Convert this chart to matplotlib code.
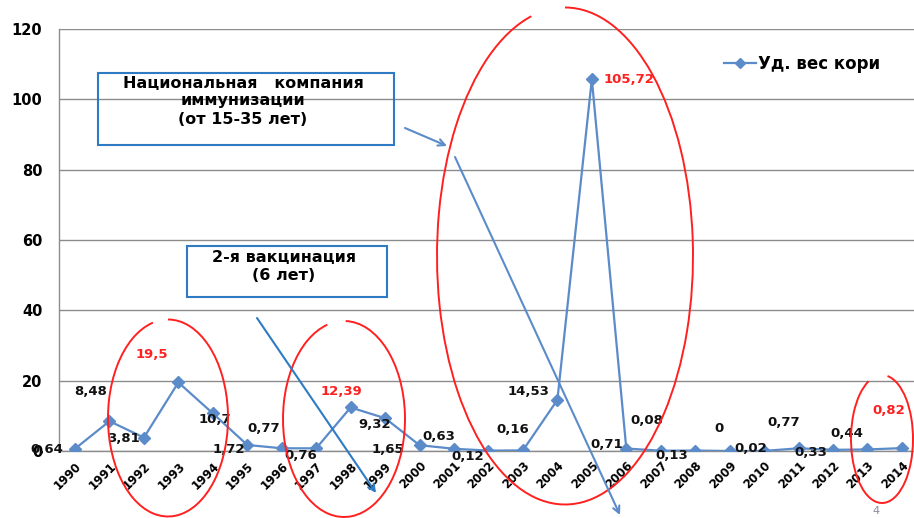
import matplotlib
matplotlib.use("Agg")
import matplotlib.pyplot as plt
from matplotlib.patches import Arc, Rectangle
from matplotlib.lines import Line2D

# data
years = ['1990', '1991', '1992', '1993', '1994', '1995', '1996', '1997', '1998',
         '1999', '2000', '2001', '2002', '2003', '2004', '2005', '2006', '2007',
         '2008', '2009', '2010', '2011', '2012', '2013', '2014']
values = [0.64, 8.48, 3.81, 19.5, 10.7, 1.72, 0.77, 0.76, 12.39, 9.32, 1.65, 0.63,
          0.12, 0.16, 14.53, 105.72, 0.71, 0.08, 0.13, 0, 0.02, 0.77, 0.33, 0.44, 0.82]
highlight = ['1993', '1998', '2005', '2014']
series_name = 'Уд. вес кори'
y_ticks = [0, 20, 40, 60, 80, 100, 120]

# label offsets from each point (pixels)
label_offsets = [(-28, -1), (-19, 30), (-20, -1), (-27, 28), (2, -6), (-18, -5),
                 (-18, 20), (-15, -7), (-9, 16), (-10, -6), (-32, -4), (-15, 12),
                 (-21, -6), (-10, 21), (-29, 8), (37, 0), (-20, 4), (-14, 30),
                 (-23, -5), (-11, 22), (-13, 2), (-15, 26), (-22, -3), (-21, 16),
                 (-13, 38)]

W, H = 914, 518
LINE = '#5B8BC9'
ARROW = '#2E7BC4'
RED = '#FF2020'

plt.rcParams['font.family'] = ['DejaVu Sans']
plt.rcParams['font.weight'] = 'bold'

fig = plt.figure(figsize=(W / 100, H / 100), dpi=100)
ax = fig.add_axes([59 / W, 67 / H, 1 - 59 / W, 422 / H])

x = list(range(len(years)))
ax.plot(x, values, color=LINE, lw=1.6, marker='D', ms=6, mec=LINE, mfc=LINE,
        label=series_name, zorder=3)

for i, v in enumerate(values):
    txt = f'{v:g}'.replace('.', ',')
    red = years[i] in highlight
    dx, dy = label_offsets[i]
    ax.annotate(txt, (i, v), xytext=(dx, dy), textcoords='offset pixels',
                ha='center', va='center', fontsize=9.5, fontweight='bold',
                color=RED if red else '#111111', zorder=5)

ax.set_xlim(-0.464, 24.35)
ax.set_ylim(0, 120)
ax.set_yticks(y_ticks)
ax.set_xticks(x)
ax.set_xticklabels(years, rotation=45, ha='right', va='top',
                   rotation_mode='anchor', fontsize=8.5, fontweight='bold')
ax.tick_params(axis='x', length=0, pad=6)
ax.tick_params(axis='y', length=0, pad=12, labelsize=10.5)
for lab in ax.get_yticklabels():
    lab.set_fontweight('bold')
ax.grid(axis='y', color='#8c8c8c', lw=1)
ax.set_axisbelow(True)
for s in ['top', 'right']:
    ax.spines[s].set_visible(False)
for s in ['left', 'bottom']:
    ax.spines[s].set_color('#8c8c8c')
    ax.spines[s].set_linewidth(1)

fig.legend(handles=[Line2D([], [], color=LINE, lw=1.6, marker='D', ms=5)],
           labels=[series_name], loc='center left',
           bbox_to_anchor=(716 / W, 1 - 64 / H), frameon=False,
           handlelength=1.9, handletextpad=0.1, borderpad=0,
           prop={'weight': 'bold', 'size': 12})

# overlay in pixel coordinates for the hand-drawn annotations
ov = fig.add_axes([0, 0, 1, 1], zorder=10)
ov.set_xlim(0, W)
ov.set_ylim(H, 0)
ov.axis('off')
ov.patch.set_alpha(0)

# (centre, width, height, theta1, theta2) - small gap near the top of each
ellipses = [((168, 418), 120, 197, 270, 621),
            ((344, 419), 122, 196, 271, 620),
            ((565, 256), 256, 497, 270, 622),
            ((882, 439), 62, 128, 275, 617)]
for c, w, h, t1, t2 in ellipses:
    ov.add_patch(Arc(c, w, h, theta1=t1, theta2=t2, color=RED, lw=1.4))

ov.add_patch(Rectangle((98, 73), 296, 72, fill=False, ec=ARROW, lw=1.5))
ov.text(243, 84, 'Национальная   компания', ha='center', va='center', fontsize=11.5)
ov.text(243, 101, 'иммунизации', ha='center', va='center', fontsize=11.5)
ov.text(243, 119, '(от 15-35 лет)', ha='center', va='center', fontsize=11.5)

ov.add_patch(Rectangle((187, 246), 200, 51, fill=False, ec=ARROW, lw=1.5))
ov.text(284, 258, '2-я вакцинация', ha='center', va='center', fontsize=11.5)
ov.text(284, 276, '(6 лет)', ha='center', va='center', fontsize=11.5)

arr = dict(arrowstyle='->', color=ARROW, lw=1.5, mutation_scale=12,
           shrinkA=0, shrinkB=0)
ov.annotate('', xy=(376, 493), xytext=(257, 318), arrowprops=arr)
arr2 = dict(arr, color='#5B8BC9')
ov.annotate('', xy=(447, 146), xytext=(405, 128), arrowprops=arr2)
ov.annotate('', xy=(620, 515), xytext=(455, 157), arrowprops=arr2)

ov.text(876, 516, '4', ha='center', va='bottom', fontsize=8,
        fontweight='normal', color='#8a8aa0')

fig.savefig('out.png', dpi=100)
